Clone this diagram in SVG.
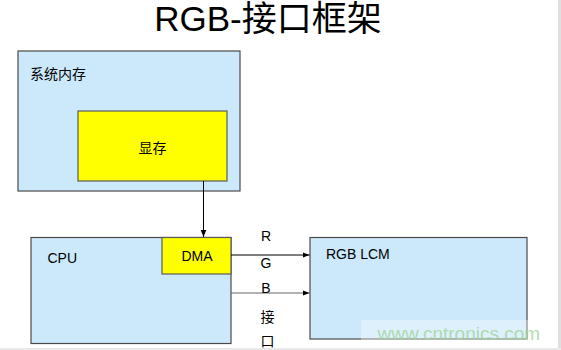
<svg xmlns="http://www.w3.org/2000/svg" width="561" height="350" viewBox="0 0 561 350">
<style>
.box{fill:#cce9fb;stroke:#4a4a4a;stroke-width:1.2}
.ybox{fill:#ffff00;stroke:#5a5a5a;stroke-width:1.2}
.t{font-family:"Liberation Sans","Noto Sans CJK SC",Arial,sans-serif;font-size:14px;fill:#000}
.title{font-family:"Liberation Sans","Noto Sans CJK SC",Arial,sans-serif;font-size:35px;fill:#000}
.line{stroke:#000;stroke-width:1;fill:none}
.line2{stroke:#666;stroke-width:1.2;fill:none}
</style>
<defs>
<marker id="ah" viewBox="0 0 10 10" refX="10" refY="5" markerWidth="7" markerHeight="7" orient="auto" markerUnits="userSpaceOnUse">
<path d="M0,1 L10,5 L0,9 z" fill="#000"/>
</marker>
</defs>
<rect width="561" height="350" fill="#fff"/>
<rect x="558" y="0" width="3" height="350" fill="#e0e0e0"/>
<rect x="0" y="348" width="561" height="2" fill="#e8e8e8"/>
<text class="title" x="268" y="31" text-anchor="middle">RGB-接口框架</text>
<g id="sysmem">
<rect class="box" x="18" y="51" width="222" height="140"/>
<text class="t" x="30" y="79">系统内存</text>
</g>
<g id="vram">
<rect class="ybox" x="78" y="111" width="149" height="70"/>
<text class="t" x="152.5" y="153" text-anchor="middle">显存</text>
</g>
<g id="cpu">
<rect class="box" x="31" y="237.5" width="200" height="106"/>
<text class="t" x="47.5" y="263">CPU</text>
</g>
<g id="dma">
<rect class="ybox" x="162" y="237.5" width="69" height="36.5"/>
<text class="t" x="197" y="261" text-anchor="middle">DMA</text>
</g>
<g id="lcm">
<rect class="box" x="310" y="237.5" width="217" height="101.5"/>
<text class="t" x="326" y="258.5">RGB LCM</text>
</g>
<g id="connectors">
<line class="line" x1="203.5" y1="181" x2="203.5" y2="237" marker-end="url(#ah)"/>
<line class="line" x1="231" y1="255" x2="309.5" y2="255" marker-end="url(#ah)"/>
<line class="line2" x1="231" y1="293" x2="309.5" y2="293" marker-end="url(#ah)"/>
</g>
<g id="rgb-label">
<text class="t" x="266" y="241" text-anchor="middle">R</text>
<text class="t" x="266" y="267.5" text-anchor="middle">G</text>
<text class="t" x="266" y="292.5" text-anchor="middle">B</text>
<text class="t" x="267.5" y="322" text-anchor="middle">接</text>
<text class="t" x="267.5" y="346" text-anchor="middle">口</text>
</g>
<g id="watermark">
<rect x="361" y="320" width="184" height="22" fill="#fff" fill-opacity="0.35"/>
<text x="377.5" y="340" font-family="'Liberation Sans',Arial,sans-serif" font-size="19" fill="#9fd49a" fill-opacity="0.8">www.cntronics.com</text>
</g>
</svg>
